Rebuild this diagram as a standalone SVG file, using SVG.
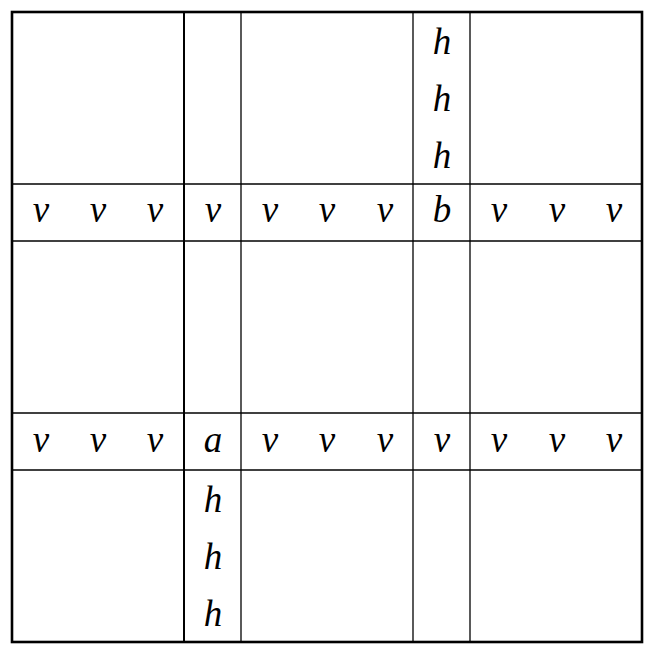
<svg xmlns="http://www.w3.org/2000/svg" width="651" height="651" viewBox="0 0 651 651">
<style>
.t{font-family:"Liberation Serif","Times New Roman",serif;font-style:italic;font-size:37px;fill:#000;text-anchor:middle}
.thin{stroke:#000;stroke-width:1.3;fill:none}
</style>
<rect x="0" y="0" width="651" height="651" fill="#fff"/>
<g id="grid">
<rect x="12" y="12" width="630" height="630" fill="none" stroke="#000" stroke-width="2.6"/>
<line x1="184" y1="12" x2="184" y2="642" stroke="#000" stroke-width="2"/>
<line class="thin" x1="241" y1="12" x2="241" y2="642"/>
<line class="thin" x1="413" y1="12" x2="413" y2="642"/>
<line class="thin" x1="470" y1="12" x2="470" y2="642"/>
<line class="thin" x1="12" y1="184" x2="642" y2="184"/>
<line class="thin" x1="12" y1="241" x2="642" y2="241"/>
<line class="thin" x1="12" y1="413" x2="642" y2="413"/>
<line class="thin" x1="12" y1="470" x2="642" y2="470"/>
</g>
<g id="row-top">
<text class="t" x="442" y="54">h</text>
<text class="t" x="442" y="111">h</text>
<text class="t" x="442" y="168">h</text>
</g>
<g id="row-b">
<text class="t" x="41" y="222">v</text>
<text class="t" x="98" y="222">v</text>
<text class="t" x="155" y="222">v</text>
<text class="t" x="213" y="222">v</text>
<text class="t" x="270" y="222">v</text>
<text class="t" x="327" y="222">v</text>
<text class="t" x="385" y="222">v</text>
<text class="t" x="442" y="222">b</text>
<text class="t" x="499" y="222">v</text>
<text class="t" x="557" y="222">v</text>
<text class="t" x="614" y="222">v</text>
</g>
<g id="row-a">
<text class="t" x="41" y="452">v</text>
<text class="t" x="98" y="452">v</text>
<text class="t" x="155" y="452">v</text>
<text class="t" x="213" y="452">a</text>
<text class="t" x="270" y="452">v</text>
<text class="t" x="327" y="452">v</text>
<text class="t" x="385" y="452">v</text>
<text class="t" x="442" y="452">v</text>
<text class="t" x="499" y="452">v</text>
<text class="t" x="557" y="452">v</text>
<text class="t" x="614" y="452">v</text>
</g>
<g id="row-bottom">
<text class="t" x="213" y="512">h</text>
<text class="t" x="213" y="569">h</text>
<text class="t" x="213" y="626">h</text>
</g>
</svg>
